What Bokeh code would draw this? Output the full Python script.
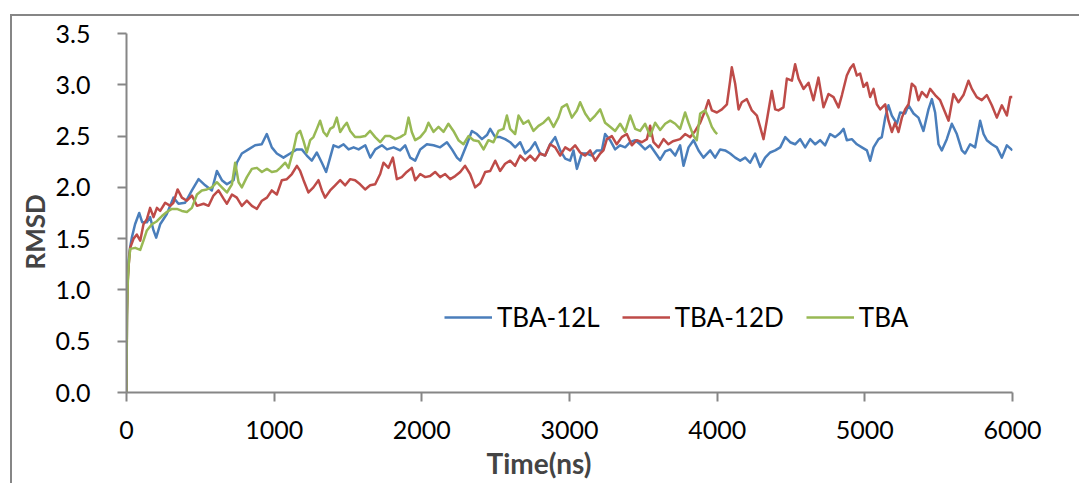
from bokeh.plotting import figure
from bokeh.models import (Range1d, FixedTicker, NumeralTickFormatter, Legend, LegendItem,
                          Title, InlineStyleSheet)
from bokeh.embed import file_html
from bokeh.resources import INLINE

# ---------------- data ----------------
tba12l_t = [0, 3, 8, 15, 25, 36, 58, 86, 106, 138, 160, 183, 201, 228, 273, 318, 352, 397, 443, 488,
            533, 578, 612, 646, 680, 725, 747, 781, 826, 871, 916, 950, 984, 1018, 1063, 1108, 1153,
            1187, 1221, 1255, 1289, 1323, 1352, 1379, 1402, 1436, 1470, 1504, 1538, 1572, 1617, 1651,
            1685, 1730, 1764, 1809, 1853, 1887, 1921, 1955, 1989, 2034, 2079, 2124, 2170, 2204, 2238,
            2260, 2305, 2339, 2373, 2407, 2441, 2463, 2497, 2530, 2564, 2598, 2632, 2666, 2700, 2734,
            2767, 2801, 2835, 2869, 2903, 2937, 2971, 3004, 3027, 3050, 3083, 3117, 3151, 3185, 3219,
            3241, 3275, 3309, 3343, 3377, 3411, 3445, 3478, 3512, 3546, 3580, 3614, 3648, 3682, 3716,
            3749, 3772, 3806, 3840, 3874, 3907, 3953, 3986, 4020, 4054, 4088, 4122, 4156, 4190, 4223,
            4257, 4291, 4325, 4359, 4393, 4427, 4461, 4494, 4528, 4562, 4596, 4630, 4664, 4697, 4731,
            4765, 4799, 4833, 4856, 4878, 4912, 4946, 4980, 5014, 5036, 5059, 5093, 5115, 5138, 5160,
            5183, 5217, 5239, 5273, 5296, 5330, 5363, 5397, 5431, 5454, 5476, 5499, 5521, 5555, 5589,
            5623, 5657, 5679, 5713, 5747, 5781, 5804, 5826, 5860, 5894, 5928, 5962, 6000]
tba12l_v = [0.0, 0.8, 1.12, 1.3, 1.42, 1.51, 1.64, 1.75, 1.66, 1.66, 1.71, 1.58, 1.51, 1.64, 1.74, 1.90,
            1.84, 1.85, 1.97, 2.08, 2.02, 1.97, 2.16, 2.07, 2.03, 2.07, 2.24, 2.33, 2.37, 2.41, 2.42,
            2.52, 2.39, 2.33, 2.29, 2.33, 2.37, 2.37, 2.31, 2.26, 2.34, 2.24, 2.15, 2.29, 2.41, 2.39,
            2.42, 2.37, 2.39, 2.37, 2.41, 2.29, 2.37, 2.41, 2.37, 2.39, 2.36, 2.41, 2.29, 2.26, 2.37,
            2.42, 2.41, 2.39, 2.44, 2.37, 2.29, 2.26, 2.42, 2.55, 2.52, 2.47, 2.51, 2.57, 2.49, 2.49,
            2.47, 2.44, 2.39, 2.44, 2.33, 2.37, 2.44, 2.33, 2.31, 2.42, 2.49, 2.36, 2.28, 2.26, 2.36,
            2.18, 2.33, 2.33, 2.31, 2.36, 2.36, 2.52, 2.46, 2.37, 2.41, 2.39, 2.44, 2.46, 2.42, 2.37,
            2.41, 2.34, 2.27, 2.35, 2.37, 2.31, 2.41, 2.21, 2.39, 2.46, 2.36, 2.29, 2.36, 2.29, 2.37,
            2.36, 2.33, 2.29, 2.26, 2.29, 2.24, 2.33, 2.20, 2.29, 2.34, 2.36, 2.39, 2.49, 2.44, 2.42,
            2.47, 2.39, 2.47, 2.42, 2.46, 2.41, 2.52, 2.49, 2.53, 2.57, 2.46, 2.47, 2.42, 2.39, 2.36,
            2.26, 2.39, 2.47, 2.49, 2.68, 2.80, 2.70, 2.62, 2.73, 2.72, 2.80, 2.72, 2.68, 2.55, 2.76,
            2.86, 2.73, 2.42, 2.36, 2.47, 2.62, 2.52, 2.36, 2.33, 2.42, 2.39, 2.65, 2.52, 2.46, 2.42,
            2.39, 2.29, 2.41, 2.36]

tba12d_t = [0, 3, 8, 15, 25, 48, 70, 93, 115, 138, 160, 183, 206, 228, 262, 296, 318, 346, 375, 409,
            443, 477, 522, 556, 589, 623, 657, 680, 714, 747, 781, 815, 849, 883, 917, 951, 984, 1018,
            1052, 1086, 1120, 1154, 1176, 1199, 1232, 1266, 1300, 1323, 1345, 1379, 1413, 1447, 1481,
            1515, 1548, 1582, 1616, 1650, 1684, 1718, 1740, 1774, 1804, 1831, 1864, 1898, 1932, 1955,
            1989, 2023, 2056, 2090, 2124, 2158, 2192, 2226, 2260, 2293, 2327, 2361, 2395, 2429, 2463,
            2497, 2530, 2564, 2598, 2632, 2666, 2700, 2734, 2767, 2801, 2835, 2869, 2903, 2937, 2971,
            3004, 3038, 3072, 3106, 3140, 3174, 3208, 3230, 3253, 3287, 3320, 3354, 3388, 3422, 3456,
            3490, 3524, 3546, 3569, 3603, 3637, 3670, 3700, 3749, 3783, 3817, 3851, 3885, 3919, 3941,
            3964, 3998, 4032, 4066, 4088, 4099, 4122, 4145, 4167, 4201, 4235, 4269, 4291, 4314, 4336,
            4370, 4393, 4415, 4449, 4472, 4506, 4528, 4551, 4585, 4619, 4652, 4686, 4720, 4754, 4788,
            4822, 4845, 4878, 4901, 4923, 4946, 4968, 4991, 5014, 5036, 5059, 5081, 5104, 5138, 5160,
            5183, 5205, 5228, 5251, 5273, 5296, 5318, 5341, 5363, 5386, 5420, 5442, 5476, 5510, 5544,
            5567, 5600, 5634, 5668, 5702, 5725, 5758, 5792, 5826, 5860, 5894, 5928, 5962, 5985, 6000]
tba12d_v = [0.0, 0.75, 1.08, 1.25, 1.41, 1.50, 1.54, 1.48, 1.64, 1.69, 1.80, 1.71, 1.80, 1.77, 1.85,
            1.82, 1.85, 1.98, 1.90, 1.87, 1.92, 1.82, 1.84, 1.82, 1.92, 1.97, 1.89, 1.84, 1.93, 1.90,
            1.82, 1.87, 1.82, 1.79, 1.87, 1.90, 1.97, 1.93, 2.07, 2.08, 2.13, 2.21, 2.16, 2.07, 1.95,
            2.00, 2.07, 1.97, 1.90, 1.97, 2.02, 2.07, 2.02, 2.08, 2.07, 2.03, 1.98, 2.02, 2.03, 2.13,
            2.24, 2.19, 2.29, 2.08, 2.10, 2.15, 2.19, 2.07, 2.13, 2.10, 2.11, 2.15, 2.10, 2.13, 2.08,
            2.11, 2.15, 2.21, 2.13, 2.00, 2.04, 2.15, 2.16, 2.26, 2.16, 2.23, 2.26, 2.21, 2.31, 2.26,
            2.31, 2.26, 2.33, 2.31, 2.42, 2.39, 2.31, 2.39, 2.36, 2.41, 2.34, 2.31, 2.36, 2.26, 2.33,
            2.36, 2.47, 2.50, 2.42, 2.49, 2.52, 2.41, 2.46, 2.44, 2.47, 2.60, 2.44, 2.39, 2.47, 2.42,
            2.45, 2.47, 2.52, 2.49, 2.55, 2.63, 2.75, 2.85, 2.75, 2.73, 2.76, 2.81, 3.04, 3.17, 3.01,
            2.76, 2.83, 2.86, 2.75, 2.70, 2.59, 2.47, 2.65, 2.94, 2.76, 2.75, 2.78, 3.06, 3.04, 3.20,
            3.06, 2.96, 3.02, 2.85, 3.07, 2.78, 2.91, 2.88, 2.78, 2.90, 3.09, 3.16, 3.20, 3.09, 3.11,
            2.98, 3.02, 2.88, 2.96, 2.81, 2.76, 2.81, 2.65, 2.54, 2.63, 2.54, 2.68, 2.76, 2.81, 3.01,
            2.98, 2.85, 2.93, 2.88, 2.96, 2.90, 2.85, 2.73, 2.65, 2.91, 2.83, 2.90, 3.04, 2.96, 2.88,
            2.85, 2.90, 2.80, 2.68, 2.80, 2.70, 2.88, 2.88]

tba_t = [0, 3, 8, 15, 25, 59, 93, 115, 138, 172, 206, 240, 273, 307, 341, 375, 409, 443, 477, 510,
         544, 578, 612, 646, 680, 714, 736, 759, 781, 815, 849, 883, 917, 951, 984, 1018, 1041, 1075,
         1097, 1131, 1154, 1176, 1199, 1221, 1244, 1266, 1289, 1311, 1334, 1357, 1379, 1402, 1424,
         1447, 1470, 1492, 1515, 1548, 1582, 1616, 1650, 1684, 1718, 1752, 1785, 1819, 1853, 1887,
         1910, 1932, 1955, 1989, 2023, 2045, 2079, 2113, 2147, 2180, 2214, 2248, 2282, 2316, 2350,
         2384, 2418, 2451, 2485, 2519, 2553, 2576, 2598, 2632, 2655, 2688, 2722, 2756, 2790, 2824,
         2858, 2892, 2925, 2948, 2982, 3016, 3050, 3072, 3106, 3140, 3174, 3208, 3241, 3275, 3309,
         3343, 3377, 3411, 3445, 3478, 3512, 3546, 3580, 3614, 3648, 3682, 3716, 3749, 3783, 3806,
         3840, 3862, 3885, 3919, 3941, 3964, 3986, 4000]
tba_v = [0.0, 0.7, 1.05, 1.25, 1.40, 1.41, 1.39, 1.48, 1.58, 1.64, 1.67, 1.72, 1.76, 1.79, 1.79, 1.77,
         1.76, 1.80, 1.93, 1.97, 1.98, 2.00, 2.05, 2.00, 1.95, 2.03, 2.24, 2.05, 2.00, 2.10, 2.18, 2.19,
         2.15, 2.18, 2.15, 2.16, 2.19, 2.24, 2.19, 2.37, 2.52, 2.55, 2.45, 2.34, 2.46, 2.49, 2.57, 2.65,
         2.54, 2.50, 2.57, 2.59, 2.68, 2.54, 2.59, 2.63, 2.55, 2.49, 2.49, 2.50, 2.55, 2.49, 2.44, 2.50,
         2.50, 2.47, 2.49, 2.52, 2.68, 2.54, 2.46, 2.49, 2.55, 2.63, 2.54, 2.59, 2.54, 2.62, 2.55, 2.46,
         2.42, 2.50, 2.46, 2.45, 2.37, 2.46, 2.44, 2.55, 2.57, 2.70, 2.57, 2.52, 2.70, 2.62, 2.65, 2.55,
         2.60, 2.63, 2.68, 2.59, 2.68, 2.78, 2.81, 2.68, 2.75, 2.83, 2.72, 2.65, 2.70, 2.76, 2.63, 2.59,
         2.55, 2.62, 2.54, 2.70, 2.57, 2.55, 2.62, 2.50, 2.63, 2.56, 2.62, 2.65, 2.62, 2.57, 2.73, 2.63,
         2.50, 2.46, 2.72, 2.75, 2.68, 2.59, 2.54, 2.52]

series_names = ["TBA-12L", "TBA-12D", "TBA"]
series_colors = ["#4A7EBB", "#BE4B48", "#98B954"]
y_ticks = [0, 0.5, 1.0, 1.5, 2.0, 2.5, 3.0, 3.5]
x_ticks = [0, 1000, 2000, 3000, 4000, 5000, 6000]

FONT = "Lato"
AXIS_GRAY = "#868686"

border_css = InlineStyleSheet(css="""
:host::after {
  content: "";
  position: absolute;
  left: 10px; top: 14px; right: 0px; bottom: 0px;
  border-left: 2px solid #868686;
  border-top: 2px solid #868686;
  pointer-events: none;
}
""")

p = figure(width=1079, height=483, output_backend="svg", toolbar_location=None,
           x_range=Range1d(0, 6000), y_range=Range1d(0, 3.5),
           min_border_left=126, min_border_right=67, min_border_top=33, min_border_bottom=91,
           stylesheets=[border_css])
p.outline_line_color = None
p.grid.visible = False
p.background_fill_color = "white"
p.border_fill_color = "white"

renderers = []
for t, v, c in zip([tba12l_t, tba12d_t, tba_t], [tba12l_v, tba12d_v, tba_v], series_colors):
    r = p.line(t, v, line_color=c, line_width=2.5, line_join="round")
    renderers.append(r)

for ax in [p.xaxis[0], p.yaxis[0]]:
    ax.axis_line_color = AXIS_GRAY
    ax.axis_line_width = 2
    ax.major_tick_line_color = AXIS_GRAY
    ax.major_tick_line_width = 2
    ax.major_tick_out = 9
    ax.major_tick_in = 0
    ax.minor_tick_line_color = None
    ax.major_label_text_font = FONT
    ax.major_label_text_font_size = "25px"
    ax.major_label_text_color = "black"

p.yaxis.ticker = FixedTicker(ticks=y_ticks)
p.yaxis.formatter = NumeralTickFormatter(format="0.0")
p.yaxis.major_label_standoff = 27
p.xaxis.ticker = FixedTicker(ticks=x_ticks)
p.xaxis.formatter = NumeralTickFormatter(format="0")
p.xaxis.major_label_standoff = 19

legend = Legend(items=[LegendItem(label=n, renderers=[r]) for n, r in zip(series_names, renderers)],
                orientation="horizontal", location=(318, 59),
                glyph_width=48, glyph_height=20, label_standoff=5, spacing=22,
                padding=0, margin=0, border_line_color=None, background_fill_alpha=0,
                label_text_font=FONT, label_text_font_size="26px", label_text_color="black")
p.add_layout(legend, "center")

p.add_layout(Title(text="Time(ns)", align="left", offset=360, standoff=5,
                   text_font=FONT, text_font_size="28px", text_font_style="bold"), "below")
p.add_layout(Title(text="RMSD", align="left", offset=123, standoff=4,
                   text_font=FONT, text_font_size="26px", text_font_style="bold"), "left")

open("out.html", "w").write(file_html(p, INLINE))
